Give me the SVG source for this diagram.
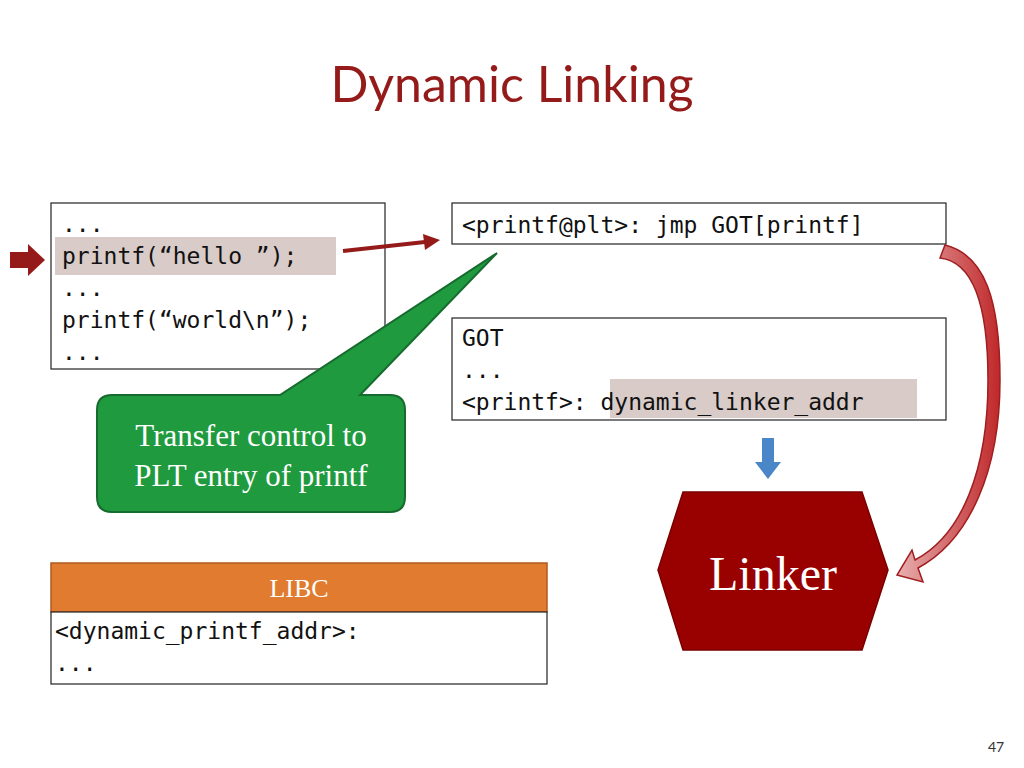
<svg xmlns="http://www.w3.org/2000/svg" width="1024" height="768" viewBox="0 0 1024 768">
<style>
.code{font-family:"DejaVu Sans Mono","Liberation Mono",monospace;font-size:23px;fill:#111}
.box{fill:#fff;stroke:#222;stroke-width:1.2}
.hl{fill:#d8cbc8}
.serif{font-family:"Liberation Serif",serif;fill:#fff}
</style>
<defs>
<linearGradient id="cg" x1="0" y1="0" x2="1" y2="0"><stop offset="0" stop-color="#e8b0b0"/><stop offset="1" stop-color="#c0282a"/></linearGradient>
</defs>
<rect width="1024" height="768" fill="#fff"/>
<text x="512" y="102" text-anchor="middle" font-family="Lato,'Open Sans',sans-serif" font-size="50" fill="#951b1b">Dynamic Linking</text>
<g id="code1">
<rect class="box" x="51" y="203" width="334" height="166"/>
<rect class="hl" x="55" y="237" width="281" height="38"/>
<text class="code" x="62" y="232">...</text>
<text class="code" x="62" y="264">printf(“hello ”);</text>
<text class="code" x="62" y="296">...</text>
<text class="code" x="62" y="328">printf(“world\n”);</text>
<text class="code" x="62" y="360">...</text>
</g>
<g id="plt">
<rect class="box" x="452" y="203" width="494" height="41"/>
<text class="code" x="462" y="233">&lt;printf@plt&gt;: jmp GOT[printf]</text>
</g>
<g id="got">
<rect class="box" x="452" y="318" width="494" height="102"/>
<rect class="hl" x="610" y="379" width="307" height="39"/>
<text class="code" x="462" y="346">GOT</text>
<text class="code" x="462" y="378">...</text>
<text class="code" x="462" y="410">&lt;printf&gt;: dynamic_linker_addr</text>
</g>
<g id="callout">
<path d="M112,395 L280,395 L497,253 L360,395 L390,395 Q405,395 405,410 L405,497 Q405,512 390,512 L112,512 Q97,512 97,497 L97,410 Q97,395 112,395 Z" fill="#1f9a3f" stroke="#176b2e" stroke-width="2"/>
<text class="serif" x="251" y="446" text-anchor="middle" font-size="31">Transfer control to</text>
<text class="serif" x="251" y="486" text-anchor="middle" font-size="31">PLT entry of printf</text>
</g>
<g id="linker">
<polygon points="683,492 862,492 888,570 862,650 683,650 658,570" fill="#990000" stroke="#7a0000" stroke-width="1.5"/>
<text class="serif" x="773" y="590" text-anchor="middle" font-size="48">Linker</text>
</g>
<g id="libc">
<rect x="51" y="563" width="496" height="49" fill="#e07b30" stroke="#b05a20" stroke-width="1.5"/>
<text class="serif" x="299" y="597" text-anchor="middle" font-size="26">LIBC</text>
<rect class="box" x="51" y="612" width="496" height="72"/>
<text class="code" x="55" y="639">&lt;dynamic_printf_addr&gt;:</text>
<text class="code" x="55" y="671">...</text>
</g>
<g id="connectors">
<path d="M10,252 L28,252 L28,244 L45,260 L28,276 L28,268 L10,268 Z" fill="#951b1b"/>
<path d="M343,251 L425,242" stroke="#951b1b" stroke-width="4" fill="none"/>
<polygon points="440,240 423,234 425,250" fill="#951b1b"/>
<path d="M762,438 L774,438 L774,462 L781,462 L768,479 L755,462 L762,462 Z" fill="#4a86c8"/>
<path d="M945,245 C985,255 1000,300 1000,380 C1000,470 970,540 918,568 L923,582 L897,575 L912,550 L915,560 C962,535 988,470 988,380 C988,310 975,262 940,258 Z" fill="url(#cg)" stroke="#a01e20" stroke-width="1.5"/>
</g>
<text x="996" y="752" text-anchor="middle" font-family="Lato,sans-serif" font-size="14" fill="#333">47</text>
</svg>
